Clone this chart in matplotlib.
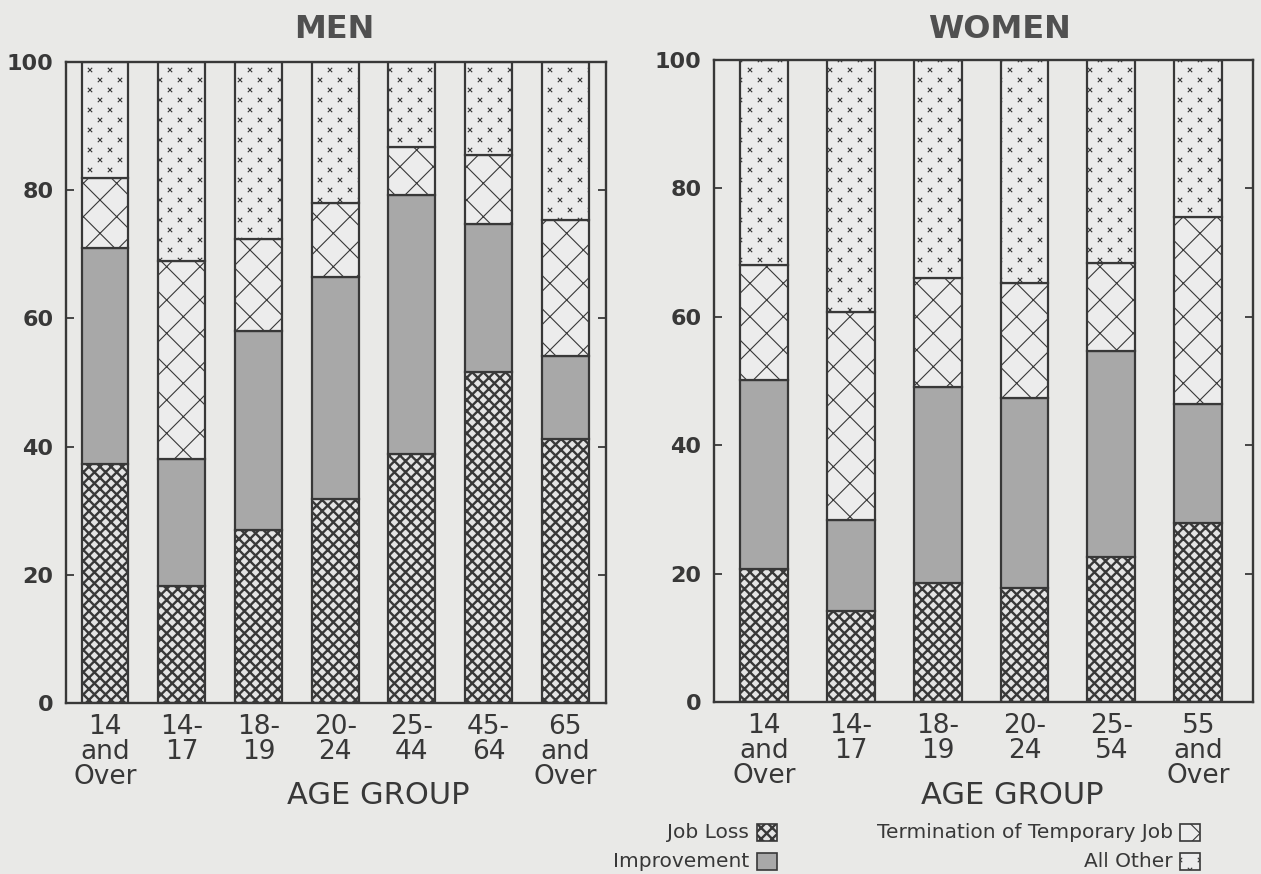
import numpy as np
import matplotlib
matplotlib.use('Agg')
import matplotlib.pyplot as plt
from matplotlib import hatch as mhatch
from matplotlib.path import Path
from matplotlib.patches import Rectangle

# values (percent of each age group)
men_groups = ['14\nand\nOver', '14-\n17', '18-\n19', '20-\n24', '25-\n44', '45-\n64', '65\nand\nOver']
men_job_loss = [37.3, 18.2, 27.0, 31.8, 38.9, 51.6, 41.2]
men_improvement = [33.6, 19.9, 31.0, 34.6, 40.3, 23.1, 13.0]
men_termination = [11.0, 30.8, 14.4, 11.6, 7.5, 10.8, 21.1]
men_other = [18.1, 31.1, 27.6, 22.0, 13.3, 14.5, 24.7]

women_groups = ['14\nand\nOver', '14-\n17', '18-\n19', '20-\n24', '25-\n54', '55\nand\nOver']
women_job_loss = [20.7, 14.1, 18.6, 17.7, 22.6, 27.9]
women_improvement = [29.5, 14.2, 30.4, 29.6, 32.1, 18.5]
women_termination = [17.8, 32.4, 17.0, 18.0, 13.7, 29.1]
women_other = [32.0, 39.3, 34.0, 34.7, 31.6, 24.5]

y_ticks = [0, 20, 40, 60, 80, 100]
categories = ['Job Loss', 'Improvement', 'Termination of Temporary Job', 'All Other']


class SparseCrosses(mhatch.HatchPatternBase):
    # small "x" marks in staggered rows, used for the '*' hatch character
    def __init__(self, hatch, density):
        n = hatch.count('*') * 5
        self.marks = []
        if n > 0:
            for r in range(2 * n + 1):
                xs = np.arange(n + 1) / n if r % 2 == 0 else (np.arange(n) + 0.5) / n
                for x in xs:
                    self.marks.append((x, r / (2 * n)))
        self.num_vertices = 4 * len(self.marks)

    def set_vertices_and_codes(self, vertices, codes):
        s = 0.018
        for i, (x, y) in enumerate(self.marks):
            vertices[4*i:4*i+4] = [(x-s, y-s), (x+s, y+s), (x-s, y+s), (x+s, y-s)]
            codes[4*i:4*i+4] = [Path.MOVETO, Path.LINETO, Path.MOVETO, Path.LINETO]


mhatch._hatch_types = [t for t in mhatch._hatch_types if t is not mhatch.Stars] + [SparseCrosses]

bg = '#e9e9e7'
ink = '#383838'
plt.rcParams['font.family'] = ['DejaVu Sans']

# face, hatch, hatch linewidth
styles = {
    'Job Loss': ('#e4e4e4', 'xxx', 1.7),
    'Improvement': ('#a8a8a8', None, 0.8),
    'Termination of Temporary Job': ('#ececec', 'x', 0.8),
    'All Other': ('#ececec', '*', 0.8),
}


def stacked(ax, groups, series, width, xlim):
    x = np.arange(len(groups))
    bottom = np.zeros(len(groups))
    for name, vals in zip(categories, series):
        face, hatch, hlw = styles[name]
        plt.rcParams['hatch.linewidth'] = hlw
        bars = ax.bar(x, vals, width, bottom=bottom, color=face, edgecolor=ink,
                      linewidth=1.6, hatch=hatch)
        for b in bars:
            if hasattr(b, 'set_hatch_linewidth'):
                b.set_hatch_linewidth(hlw)
        bottom += np.array(vals)
    ax.set_xlim(*xlim)
    ax.set_ylim(0, 100)
    ax.set_facecolor(bg)
    ax.set_yticks(y_ticks)
    ax.set_yticklabels([str(t) for t in y_ticks], fontsize=16, fontweight='bold', color=ink)
    ax.set_xticks(x)
    ax.set_xticklabels(groups, fontsize=19, color=ink, linespacing=0.95)
    ax.tick_params(axis='x', length=0, pad=8)
    ax.tick_params(axis='y', direction='in', length=6, width=1.3, color=ink,
                   right=True, pad=9)
    for s in ax.spines.values():
        s.set_linewidth(1.7)
        s.set_color(ink)


fig = plt.figure(figsize=(12.61, 8.74), dpi=100, facecolor=bg)
ax1 = fig.add_axes([0.0523, 0.1957, 0.4282, 0.7334])
ax2 = fig.add_axes([0.5662, 0.1968, 0.4274, 0.7346])

stacked(ax1, men_groups, [men_job_loss, men_improvement, men_termination, men_other],
        0.61, (-0.51, 6.53))
stacked(ax2, women_groups, [women_job_loss, women_improvement, women_termination, women_other],
        0.55, (-0.575, 5.63))

fig.text(0.265, 0.966, 'MEN', fontsize=23, fontweight='bold', color='#505050',
         ha='center', va='center')
fig.text(0.793, 0.966, 'WOMEN', fontsize=23, fontweight='bold', color='#505050',
         ha='center', va='center')
fig.text(0.300, 0.090, 'AGE GROUP', fontsize=22, color=ink, ha='center', va='center')
fig.text(0.803, 0.090, 'AGE GROUP', fontsize=22, color=ink, ha='center', va='center')

# legend laid out as in the original: label text to the left of a swatch
legend_pos = {
    'Job Loss': (0.600, 0.038),
    'Improvement': (0.600, 0.005),
    'Termination of Temporary Job': (0.936, 0.038),
    'All Other': (0.936, 0.005),
}
w, h = 20 / 1261, 17 / 874
for name in categories:
    face, hatch, hlw = styles[name]
    lx, ly = legend_pos[name]
    plt.rcParams['hatch.linewidth'] = hlw
    r = Rectangle((lx, ly), w, h, transform=fig.transFigure, facecolor=face,
                  edgecolor=ink, linewidth=1.2, hatch=hatch)
    if hasattr(r, 'set_hatch_linewidth'):
        r.set_hatch_linewidth(hlw)
    fig.add_artist(r)
    fig.text(lx - 0.006, ly + h / 2, name, fontsize=14.5, color=ink, ha='right', va='center')

fig.savefig('out.png', dpi=100, facecolor=bg)
